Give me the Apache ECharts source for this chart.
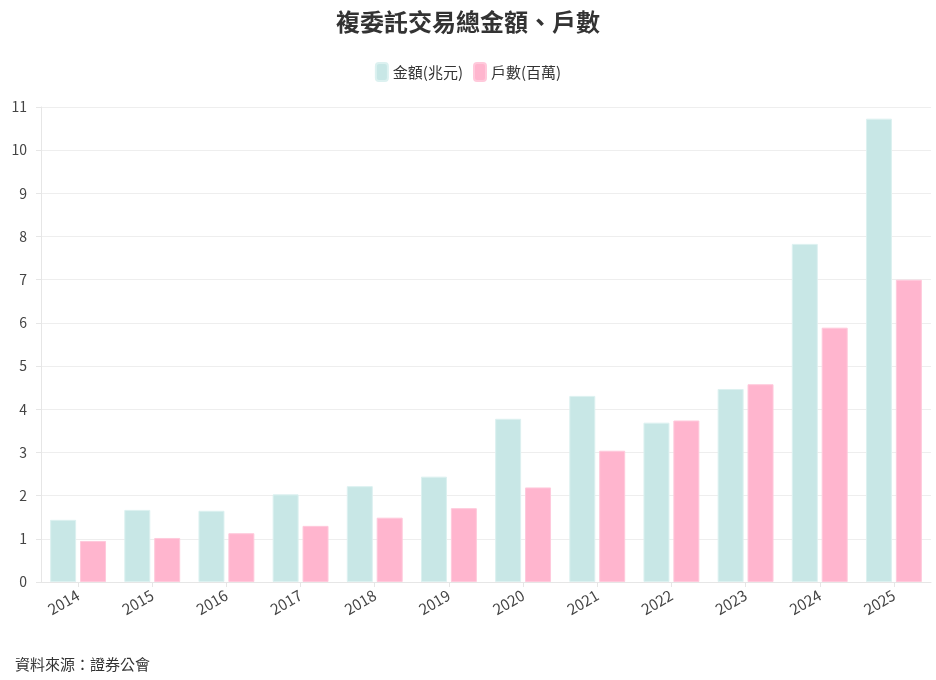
<!DOCTYPE html>
<html lang="zh-Hant">
<head>
    <meta charset="UTF-8">
    <title>複委託交易總金額、戶數</title>
    <script src="https://cdn.jsdelivr.net/npm/echarts@6/dist/echarts.min.js"></script>
    <style>
        html, body { margin: 0; padding: 0; background: #fff; }
        #main { width: 936px; height: 680px; }
    </style>
</head>
<body>
<div id="main"></div>
<script>
    // 資料
    var years = ['2014', '2015', '2016', '2017', '2018', '2019', '2020', '2021', '2022', '2023', '2024', '2025'];
    var amount = [1.44, 1.67, 1.65, 2.03, 2.22, 2.44, 3.78, 4.31, 3.69, 4.47, 7.83, 10.73];   // 金額(兆元)
    var accounts = [0.95, 1.02, 1.13, 1.30, 1.49, 1.71, 2.19, 3.04, 3.74, 4.58, 5.89, 7.00]; // 戶數(百萬)

    var font = 'Noto Sans CJK TC';
    var chart = echarts.init(document.getElementById('main'));

    chart.setOption({
        backgroundColor: '#fff',
        textStyle: { fontFamily: font },
        title: [{
            text: '複委託交易總金額、戶數',
            left: 'center',
            top: 5,
            textStyle: { fontSize: 24, fontWeight: 'bold', color: '#333', fontFamily: font }
        }, {
            text: '資料來源：證券公會',
            left: 10,
            top: 652,
            textStyle: { fontSize: 15, fontWeight: 'normal', color: '#333', fontFamily: font }
        }],
        legend: {
            top: 57,
            left: 'center',
            itemWidth: 12,
            itemHeight: 18,
            itemGap: 10,
            icon: 'roundRect',
            textStyle: { fontSize: 15, color: '#333', fontFamily: font },
            data: ['金額(兆元)', '戶數(百萬)']
        },
        grid: { left: 41, right: 5, top: 107, bottom: 98 },
        xAxis: {
            type: 'category',
            data: years,
            axisLine: { lineStyle: { color: '#e6e6e6' } },
            axisTick: { show: true, alignWithLabel: true, lineStyle: { color: '#e6e6e6' } },
            axisLabel: { rotate: 30, fontSize: 15, color: '#444', margin: 12, fontFamily: font }
        },
        yAxis: {
            type: 'value',
            min: 0,
            max: 11,
            interval: 1,
            axisLine: { show: true, lineStyle: { color: '#e6e6e6' } },
            axisTick: { show: true, lineStyle: { color: '#e6e6e6' } },
            axisLabel: { fontSize: 14, color: '#444', margin: 14, fontFamily: font },
            splitLine: { lineStyle: { color: '#eeeeee' } }
        },
        series: [{
            name: '金額(兆元)',
            type: 'bar',
            data: amount,
            barWidth: 26,
            barGap: '15%',
            itemStyle: { color: '#c8e7e6', borderColor: '#dcf1f0', borderWidth: 1 }
        }, {
            name: '戶數(百萬)',
            type: 'bar',
            data: accounts,
            barWidth: 26,
            barGap: '15%',
            itemStyle: { color: '#ffb5ce', borderColor: '#ffc9db', borderWidth: 1 }
        }]
    });
</script>
</body>
</html>
